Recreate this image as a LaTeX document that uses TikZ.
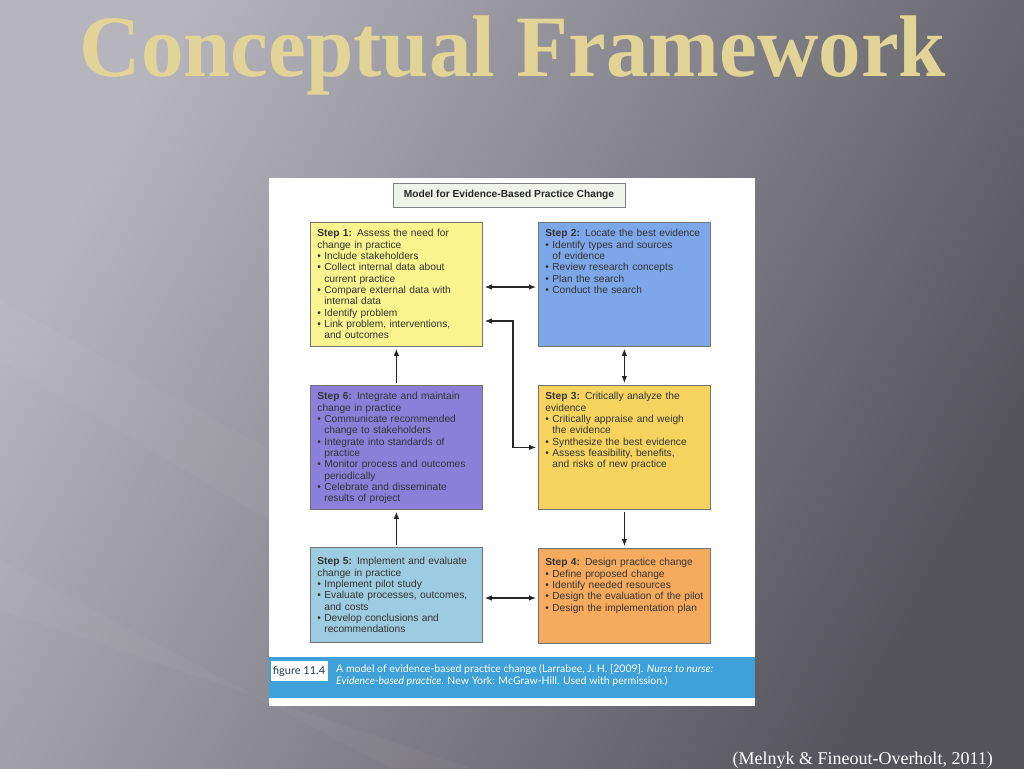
\documentclass[tikz,border=0pt]{standalone}
\usepackage{fontspec}
\usepackage{graphicx}
\setmainfont{Liberation Serif}
\newfontfamily\boxfont{Liberation Sans}
\newfontfamily\capfont{Lato}
\usetikzlibrary{arrows.meta}

\definecolor{bgLight}{RGB}{182,180,188}
\definecolor{bgDark}{RGB}{86,84,91}
\definecolor{titleGold}{RGB}{226,212,150}
\definecolor{stepOne}{RGB}{249,244,142}
\definecolor{stepTwo}{RGB}{125,167,232}
\definecolor{stepThree}{RGB}{246,211,94}
\definecolor{stepFour}{RGB}{246,170,94}
\definecolor{stepFive}{RGB}{157,203,224}
\definecolor{stepSix}{RGB}{140,127,218}
\definecolor{headFill}{RGB}{238,244,234}
\definecolor{capBlue}{RGB}{62,161,217}
\definecolor{figInk}{RGB}{30,55,85}

\newcommand{\itm}{\textbullet\ }
\newcommand{\cont}{\phantom{\textbullet\ }}

\begin{document}
\begin{tikzpicture}[x=1pt,y=-1pt,
    stepbox/.style={rectangle,draw=black!55,line width=0.8pt,anchor=north west,
        inner xsep=7pt,inner ysep=4pt,text width=158pt,align=left,
        font=\boxfont\fontsize{10.2}{11.3}\selectfont,text=black!80},
    tallbox/.style={text height=10.5pt,text depth=105.5pt},
    lowbox/.style={text height=13.5pt,text depth=73.5pt},
    link/.style={draw=black!85,line width=1.1pt,shorten <=2pt,shorten >=2pt},
    onehead/.style={link,-{Latex[length=7pt,width=5.5pt]}},
    twohead/.style={link,{Latex[length=7pt,width=5.5pt]}-{Latex[length=7pt,width=5.5pt]}}]

\useasboundingbox (0,0) rectangle (1024,768);

% Slide background
\shade[top color=bgLight,bottom color=bgDark,shading angle=62] (0,0) rectangle (1024,768);
\fill[white,opacity=0.03] (0,560) -- (0,610) -- (470,768) -- (390,768) -- cycle;
\fill[white,opacity=0.03] (0,300) -- (0,360) -- (269,520) -- (269,450) -- cycle;

% Title
\node[anchor=base,inner sep=0,text=titleGold,font=\bfseries\fontsize{85}{90}\selectfont] (title) at (513,76)
    {\scalebox{1}[1.03]{Conceptual Framework}};

% Figure panel
\fill[white] (269,178) rectangle (755,706);
\node[rectangle,draw=black!50,fill=headFill,minimum width=232pt,minimum height=24pt,inner sep=0,
    font=\boxfont\bfseries\fontsize{10.2}{11.3}\selectfont,text=black!85] (model) at (509,195)
    {Model for Evidence-Based Practice Change};

% Steps
\node[stepbox,tallbox,fill=stepOne] (s1) at (310,222)
    {\textbf{Step 1:} Assess the need for\\ change in practice\\ \itm Include stakeholders\\
     \itm Collect internal data about\\ \cont current practice\\ \itm Compare external data with\\
     \cont internal data\\ \itm Identify problem\\ \itm Link problem, interventions,\\ \cont and outcomes};
\node[stepbox,tallbox,fill=stepTwo] (s2) at (538,222)
    {\textbf{Step 2:} Locate the best evidence\\ \itm Identify types and sources\\ \cont of evidence\\
     \itm Review research concepts\\ \itm Plan the search\\ \itm Conduct the search};
\node[stepbox,tallbox,fill=stepSix] (s6) at (310,385)
    {\textbf{Step 6:} Integrate and maintain\\ change in practice\\ \itm Communicate recommended\\
     \cont change to stakeholders\\ \itm Integrate into standards of\\ \cont practice\\
     \itm Monitor process and outcomes\\ \cont periodically\\ \itm Celebrate and disseminate\\ \cont results of project};
\node[stepbox,tallbox,fill=stepThree] (s3) at (538,385)
    {\textbf{Step 3:} Critically analyze the\\ evidence\\ \itm Critically appraise and weigh\\
     \cont the evidence\\ \itm Synthesize the best evidence\\ \itm Assess feasibility, benefits,\\
     \cont and risks of new practice};
\node[stepbox,lowbox,fill=stepFive] (s5) at (310,547)
    {\textbf{Step 5:} Implement and evaluate\\ change in practice\\ \itm Implement pilot study\\
     \itm Evaluate processes, outcomes,\\ \cont and costs\\ \itm Develop conclusions and\\ \cont recommendations};
\node[stepbox,lowbox,fill=stepFour] (s4) at (538,548)
    {\textbf{Step 4:} Design practice change\\ \itm Define proposed change\\ \itm Identify needed resources\\
     \mbox{\itm Design the evaluation of the pilot}\\ \itm Design the implementation plan};

% Connectors
\coordinate (bend) at (513,321);
\coordinate (toprow) at (510,287);
\coordinate (lowrow) at (510,598);
\draw[twohead] (s1.east |- toprow) -- (s2.west |- toprow);
\draw[twohead] (s1.east |- bend) -- (bend) |- (s3.west);
\draw[twohead] (s2.south) -- (s3.north);
\draw[onehead] (s3.south) -- (s4.north);
\draw[twohead] (s5.east |- lowrow) -- (s4.west |- lowrow);
\draw[onehead] (s5.north) -- (s6.south);
\draw[onehead] (s6.north) -- (s1.south);

% Caption band
\fill[capBlue] (269,657) rectangle (755,698);
\node[rectangle,fill=white,minimum width=57pt,minimum height=20pt,inner sep=0,
    font=\capfont\fontsize{11}{12}\selectfont,text=figInk] (figno) at (299,671) {figure 11.4};
\node[anchor=north west,inner sep=0,align=left,text=white,
    font=\capfont\fontsize{10.5}{12.5}\selectfont] (captext) at (336,664)
    {A model of evidence-based practice change (Larrabee, J. H. [2009]. \textit{Nurse to nurse:}\\
     \textit{Evidence-based practice}. New York: McGraw-Hill. Used with permission.)};

% Source
\node[anchor=base east,inner sep=0,text=white,font=\fontsize{18}{20}\selectfont] (source) at (993,764)
    {(Melnyk \& Fineout-Overholt, 2011)};

\end{tikzpicture}
\end{document}
